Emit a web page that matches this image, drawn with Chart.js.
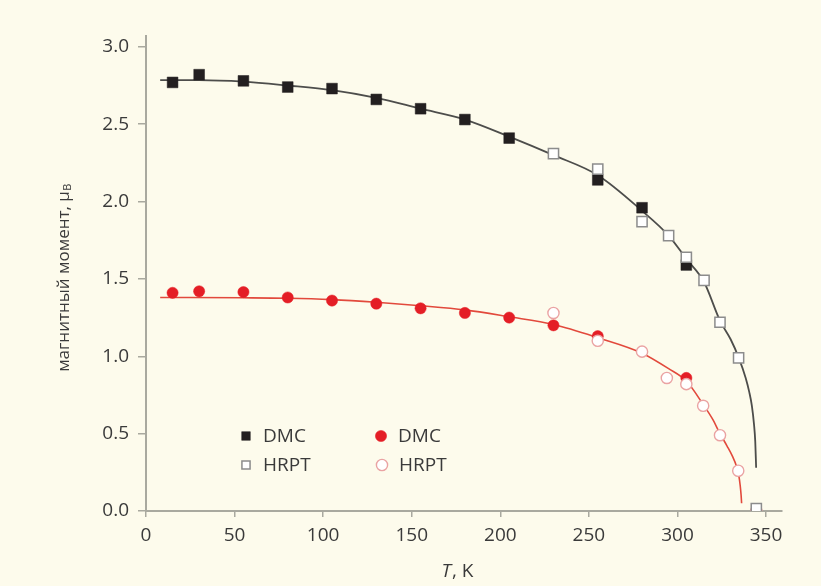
<!DOCTYPE html>
<html>
<head>
<meta charset="utf-8">
<script src="https://cdn.jsdelivr.net/npm/chart.js@4"></script>
<style>
  html, body { margin: 0; padding: 0; background: #fdfbec; }
  #wrap { width: 821px; height: 586px; }
</style>
</head>
<body>
<div id="wrap"><canvas id="c" width="821" height="586"></canvas></div>
<script>
// ---- data ----
// black (DMC), filled squares
const dmcBlackT = [15, 30, 55, 80, 105, 130, 155, 180, 205, 255, 280, 305];
const dmcBlackM = [2.77, 2.82, 2.78, 2.74, 2.73, 2.66, 2.60, 2.53, 2.41, 2.14, 1.96, 1.59];
// black (HRPT), open squares
const hrptBlackT = [230, 255, 280, 295, 305, 315, 324, 334.5, 344.5];
const hrptBlackM = [2.31, 2.21, 1.87, 1.78, 1.64, 1.49, 1.22, 0.99, 0.015];
// red (DMC), filled circles
const dmcRedT = [15, 30, 55, 80, 105, 130, 155, 180, 205, 230, 255, 305];
const dmcRedM = [1.41, 1.42, 1.415, 1.38, 1.36, 1.34, 1.31, 1.28, 1.25, 1.20, 1.13, 0.86];
// red (HRPT), open circles
const hrptRedT = [230, 255, 280, 294, 305, 314.5, 324, 334.3, 344.5];
const hrptRedM = [1.28, 1.10, 1.03, 0.86, 0.82, 0.68, 0.49, 0.26, 0.0];
// fitted curves
const fitBlackT = [8, 30, 55, 80, 105, 130, 155, 180, 205, 230, 255, 280, 295, 305, 315, 324, 330, 334.6, 338.5, 340.5, 342.0, 343.2, 343.9, 344.4];
const fitBlackM = [2.785, 2.785, 2.775, 2.75, 2.72, 2.67, 2.60, 2.53, 2.42, 2.30, 2.17, 1.94, 1.78, 1.63, 1.48, 1.23, 1.11, 0.99, 0.86, 0.77, 0.68, 0.56, 0.45, 0.28];
const fitRedT = [8, 55, 80, 105, 130, 155, 180, 205, 230, 255, 280, 295, 305, 315, 320, 324, 328, 331, 333.3, 334.6, 335.4, 335.9, 336.2];
const fitRedM = [1.38, 1.378, 1.375, 1.366, 1.349, 1.327, 1.30, 1.255, 1.205, 1.12, 1.02, 0.92, 0.84, 0.68, 0.59, 0.50, 0.42, 0.355, 0.29, 0.23, 0.165, 0.105, 0.05];
// axes
const xTickValues = [0, 50, 100, 150, 200, 250, 300, 350];
const yTickValues = [0.0, 0.5, 1.0, 1.5, 2.0, 2.5, 3.0];
const legendLabels = ['DMC', 'HRPT', 'DMC', 'HRPT'];
const xTitleItalic = 'T';
const xTitleRest = ', K';
const yTitleMain = 'магнитный момент, μ';
const yTitleSub = 'B';

const pts = (xs, ys) => xs.map((x, i) => ({ x: x, y: ys[i] }));

const FONT = '"Open Sans", "Noto Sans", sans-serif';
const TEXT = '#3a3a3a';
const AXIS = '#a9a99f';

const styles = {
  hrptBlack: { pointStyle: 'rect', radius: 7.2, bg: '#ffffff', border: '#8c8c8c', bw: 1.5 },
  dmcBlack:  { pointStyle: 'rect', radius: 7.6, bg: '#231f20', border: '#231f20', bw: 0.5 },
  hrptRed:   { pointStyle: 'circle', radius: 5.6, bg: '#ffffff', border: '#eaa3a3', bw: 1.4 },
  dmcRed:    { pointStyle: 'circle', radius: 5.6, bg: '#e41e26', border: '#e41e26', bw: 0.5 }
};

function scatterSet(label, data, s) {
  return {
    label: label, data: data, showLine: false,
    pointStyle: s.pointStyle, pointRadius: s.radius, pointHoverRadius: s.radius,
    pointBackgroundColor: s.bg, pointBorderColor: s.border, pointBorderWidth: s.bw
  };
}

const overlay = {
  id: 'overlay',
  afterDraw(chart) {
    const ctx = chart.ctx;
    ctx.save();
    // legend
    const items = [
      { s: styles.dmcBlack, x: 246, y: 436, t: legendLabels[0] },
      { s: styles.hrptBlack, x: 246, y: 465, t: legendLabels[1] },
      { s: styles.dmcRed, x: 381, y: 436, t: legendLabels[2] },
      { s: styles.hrptRed, x: 382, y: 465, t: legendLabels[3] }
    ];
    items.forEach(it => {
      ctx.fillStyle = it.s.bg;
      ctx.strokeStyle = it.s.border;
      ctx.lineWidth = it.s.bw;
      const r = it.s.pointStyle === 'rect' ? it.s.radius * 0.8 : it.s.radius;
      Chart.helpers.drawPoint(ctx, { pointStyle: it.s.pointStyle, radius: r, rotation: 0, borderWidth: it.s.bw }, it.x, it.y);
      ctx.fillStyle = TEXT;
      ctx.font = '19px ' + FONT;
      ctx.textBaseline = 'middle';
      ctx.textAlign = 'left';
      ctx.fillText(it.t, it.x + 17, it.y + 1);
    });
    // x title
    ctx.fillStyle = TEXT;
    ctx.textBaseline = 'middle';
    ctx.font = 'italic 19px ' + FONT;
    const w1 = ctx.measureText(xTitleItalic).width;
    ctx.font = '19px ' + FONT;
    const w2 = ctx.measureText(xTitleRest).width;
    let x0 = 457 - (w1 + w2) / 2;
    ctx.font = 'italic 19px ' + FONT;
    ctx.textAlign = 'left';
    ctx.fillText(xTitleItalic, x0, 572);
    ctx.font = '19px ' + FONT;
    ctx.fillText(xTitleRest, x0 + w1 + 1, 572);
    // y title (rotated)
    ctx.translate(64, 278);
    ctx.rotate(-Math.PI / 2);
    ctx.font = '17px ' + FONT;
    const m = ctx.measureText(yTitleMain).width;
    ctx.font = '11px ' + FONT;
    const sw = ctx.measureText(yTitleSub).width;
    const start = -(m + sw) / 2;
    ctx.font = '17px ' + FONT;
    ctx.fillText(yTitleMain, start, 0);
    ctx.font = '11px ' + FONT;
    ctx.fillText(yTitleSub, start + m + 0.5, 4);
    ctx.restore();
  }
};

new Chart(document.getElementById('c'), {
  type: 'scatter',
  data: {
    datasets: [
      scatterSet('HRPT', pts(hrptBlackT, hrptBlackM), styles.hrptBlack),
      scatterSet('DMC', pts(dmcBlackT, dmcBlackM), styles.dmcBlack),
      scatterSet('HRPT', pts(hrptRedT, hrptRedM), styles.hrptRed),
      scatterSet('DMC', pts(dmcRedT, dmcRedM), styles.dmcRed),
      { label: 'fit black', data: pts(fitBlackT, fitBlackM), showLine: true, pointRadius: 0,
        borderColor: '#4d4d4b', borderWidth: 1.8, cubicInterpolationMode: 'monotone' },
      { label: 'fit red', data: pts(fitRedT, fitRedM), showLine: true, pointRadius: 0,
        borderColor: '#e2493c', borderWidth: 1.6, cubicInterpolationMode: 'monotone' }
    ]
  },
  options: {
    responsive: false,
    animation: false,
    events: [],
    layout: { padding: { left: 0, top: 36, right: 39, bottom: 0 } },
    plugins: { legend: { display: false }, tooltip: { enabled: false } },
    scales: {
      x: {
        type: 'linear', min: 0, max: 359,
        afterFit: s => { s.height = 75; },
        afterBuildTicks: s => { s.ticks = xTickValues.map(v => ({ value: v })); },
        border: { display: true, color: AXIS, width: 2 },
        grid: { display: true, drawOnChartArea: false, drawTicks: true, tickLength: 6, tickColor: AXIS, lineWidth: 1.5 },
        ticks: { color: TEXT, font: { family: FONT, size: 19 }, padding: 7, maxRotation: 0 }
      },
      y: {
        type: 'linear', min: 0, max: 3.07,
        afterFit: s => { s.width = 146; },
        afterBuildTicks: s => { s.ticks = yTickValues.map(v => ({ value: v })); },
        border: { display: true, color: AXIS, width: 2 },
        grid: { display: true, drawOnChartArea: false, drawTicks: true, tickLength: 8, tickColor: AXIS, lineWidth: 1.5 },
        ticks: { color: TEXT, font: { family: FONT, size: 19 }, padding: 9, callback: v => Number(v).toFixed(1) }
      }
    }
  },
  plugins: [overlay]
});
</script>
</body>
</html>
